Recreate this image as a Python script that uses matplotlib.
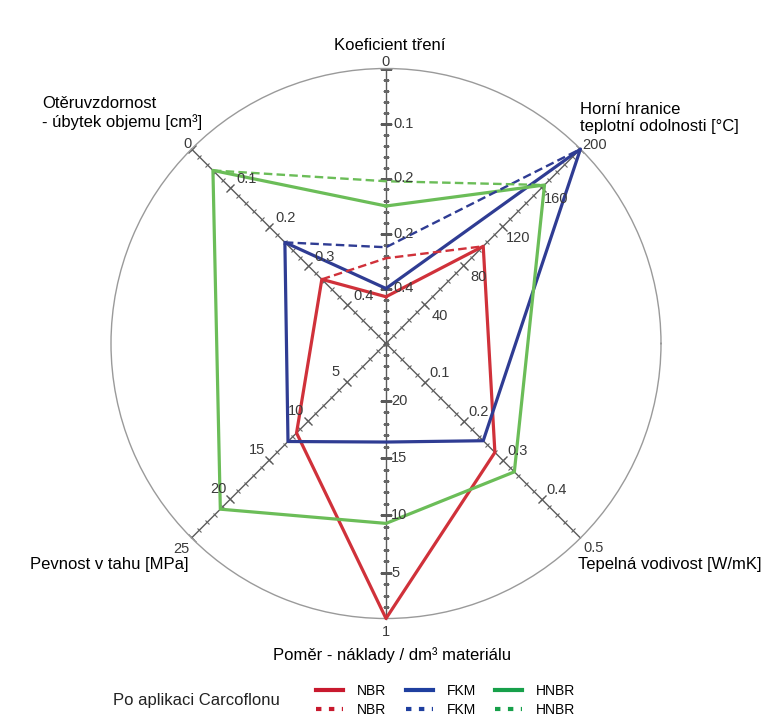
#Radar chart - NBR / FKM / HNBR properties, before and after Carcoflon
import numpy as np
import matplotlib.pyplot as plt
from matplotlib.lines import Line2D
from matplotlib.markers import MarkerStyle
from matplotlib.transforms import Affine2D

plt.rcParams['font.family'] = ['Liberation Sans', 'DejaVu Sans']

# radar axes (clockwise from the top)
axis_names = ['Koeficient tření', 'Horní hranice\nteplotní odolnosti [°C]', 'Tepelná vodivost [W/mK]',
              'Poměr - náklady / dm³ materiálu', 'Pevnost v tahu [MPa]', 'Otěruvzdornost\n- úbytek objemu [cm³]']
axis_angles = [90, 45, -45, -90, -135, 135]
# value at the centre and at the rim of each axis
axis_center = [0.5, 0, 0, 25, 0, 0.5]
axis_rim = [0, 200, 0.5, 1, 25, 0]
minor_step = [0.02, 8, 0.02, 1, 1, 0.02]
tick_values = [[0, 0.1, 0.2, 0.3, 0.4], [40, 80, 120, 160, 200], [0.1, 0.2, 0.3, 0.4, 0.5],
               [1, 5, 10, 15, 20], [5, 10, 15, 20, 25], [0, 0.1, 0.2, 0.3, 0.4]]
tick_labels = [['0', '0.1', '0.2', '0.2', '0.4'], ['40', '80', '120', '160', '200'],
               ['0.1', '0.2', '0.3', '0.4', '0.5'], ['1', '5', '10', '15', '20'],
               ['5', '10', '15', '20', '25'], ['0', '0.1', '0.2', '0.3', '0.4']]

# materials
nbr = [0.415, 100, 0.28, 1, 11.5, 0.335]
fkm = [0.40, 200, 0.25, 16.4, 12.6, 0.24]
hnbr = [0.25, 163, 0.33, 9.3, 21.3, 0.055]
# friction coefficient after Carcoflon
nbr_carco = 0.345
fkm_carco = 0.325
hnbr_carco = 0.205


def to_r(i, v):
    return (v - axis_center[i]) / (axis_rim[i] - axis_center[i])


theta = np.deg2rad(axis_angles)

W, H = 778, 726
fig = plt.figure(figsize=(W / 100, H / 100), dpi=100)
cx, cy, R = 386, 343.5, 275
ax = fig.add_axes([(cx - R) / W, 1 - (cy + R) / H, 2 * R / W, 2 * R / H], projection='polar')
ax.set_ylim(0, 1)
ax.set_xticks([])
ax.set_yticks([])
ax.grid(False)
ax.spines['polar'].set_color('#9a9a9a')
ax.spines['polar'].set_linewidth(1.0)

# spokes with ticks
for i, t in enumerate(theta):
    ax.plot([t, t], [0, 1], color='#5a5a5a', lw=1.0, zorder=2, clip_on=False)
    lo, hi = sorted([axis_center[i], axis_rim[i]])
    minors = np.arange(lo, hi + 1e-9, minor_step[i])
    rot = Affine2D().rotate_deg(axis_angles[i] + 90)
    ax.plot(np.full(len(minors), t), [to_r(i, v) for v in minors], ls='none',
            marker=MarkerStyle('_', transform=rot), ms=4, mew=0.8, color='#666666', zorder=2)
    ax.plot(np.full(len(tick_values[i]), t), [to_r(i, v) for v in tick_values[i]], ls='none',
            marker=MarkerStyle('_', transform=rot), ms=8, mew=1.0, color='#5a5a5a', zorder=2)

# tick label offsets in pixels: inner labels / rim label
inner_off = [(7, 0, 'left'), (15, -11, 'center'), (15, 9, 'center'),
             (5, 0, 'left'), (-12, 10, 'center'), (16, 9, 'center')]
rim_off = [(0, 6, 'center'), (2, 4, 'left'), (13, -10, 'center'),
           (0, -13, 'center'), (-10, -11, 'center'), (-4, 5, 'center')]
for i, t in enumerate(theta):
    for v, lab in zip(tick_values[i], tick_labels[i]):
        dx, dy, ha = rim_off[i] if v == axis_rim[i] else inner_off[i]
        ax.annotate(lab, xy=(t, to_r(i, v)), xytext=(dx, dy), textcoords='offset pixels',
                    ha=ha, va='center', fontsize=10.5, color='#3a3a3a', zorder=6,
                    annotation_clip=False)

# series
red, blue, green = '#d0313a', '#2f3c93', '#6bbd58'
closed = np.append(theta, theta[0])
for vals, col in [(nbr, red), (fkm, blue), (hnbr, green)]:
    r = [to_r(i, v) for i, v in enumerate(vals)]
    ax.plot(closed, r + [r[0]], color=col, lw=2.3, zorder=4, clip_on=False)
for vals, carco, col in [(nbr, nbr_carco, red), (fkm, fkm_carco, blue), (hnbr, hnbr_carco, green)]:
    r = [to_r(5, vals[5]), to_r(0, carco), to_r(1, vals[1])]
    ax.plot([theta[5], theta[0], theta[1]], r, color=col, lw=1.7, ls=(0, (3.6, 1.8)), zorder=4,
            clip_on=False)


def px(x, y):
    return x / W, 1 - y / H


fig.text(*px(390, 45), axis_names[0], ha='center', va='center', fontsize=12)
fig.text(*px(580, 118), axis_names[1], ha='left', va='center', fontsize=12, linespacing=1.25)
fig.text(*px(578, 565), axis_names[2], ha='left', va='center', fontsize=12)
fig.text(*px(392, 655), axis_names[3], ha='center', va='center', fontsize=12)
fig.text(*px(30, 565), axis_names[4], ha='left', va='center', fontsize=12)
fig.text(*px(42, 113), axis_names[5], ha='left', va='center', fontsize=12, linespacing=1.25)

# legend
fig.text(*px(113, 700), 'Po aplikaci Carcoflonu', ha='left', va='center', fontsize=12, color='#222')
leg_cols = ['#c8192e', '#1f3f9f', '#17a04a']
leg_names = ['NBR', 'FKM', 'HNBR']
handles, labels = [], []
for c, n in zip(leg_cols, leg_names):
    handles.append(Line2D([], [], color=c, lw=3.0))
    labels.append(n)
    handles.append(Line2D([], [], color=c, lw=3.0, ls=(0, (1.3, 1.8))))
    labels.append(n)
fig.legend(handles, labels, ncol=3, loc='center left', bbox_to_anchor=px(316, 700.5), frameon=False,
           fontsize=10, handlelength=1.95, handletextpad=1.0, columnspacing=1.4, labelspacing=0.35,
           borderpad=0, borderaxespad=0)

fig.savefig('out.png', dpi=100, facecolor='white')
